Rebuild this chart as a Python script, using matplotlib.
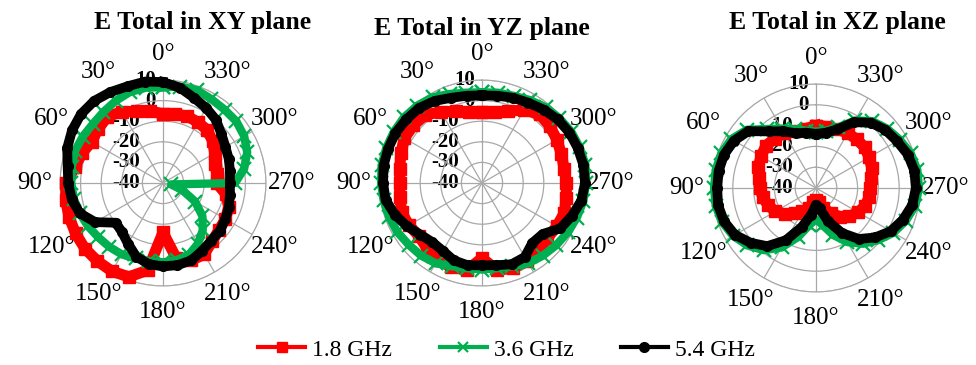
import numpy as np
import matplotlib
matplotlib.use('Agg')
import matplotlib.pyplot as plt

plt.rcParams['font.family'] = ['Liberation Serif', 'DejaVu Serif']

# angles of the pattern cuts, degrees
angles_deg = list(range(0, 360, 10))

# E Total in XY plane (dB)
xy_18 = [-6.5, -4.5, -3, 0, 2, 1, 0, 2, 3.5, 7, 8, 8.5, 9, 9.5, 9.5, 9.5, 8.5, 3,
         -16, -3, 0, 0, -3, -4.5, -5, -6, -9, -14, -13.5, -13, -11, -8.5, -6.5, -6, -5.5, -6]
xy_36 = [6.5, 7, 7, 6, 5, 4.5, 5, 5.5, 5, 4.5, 4, 3, 2, 1, 0.5, 0, -1, -1.5,
         -1.5, -2, -3, -6, -10, -15, -22, -30, -36, -5, 0, 3.5, 5.5, 6.5, 6.5, 7, 8, 7.5]
xy_54 = [9, 10, 10, 11, 12, 12, 11, 9.5, 7, 6, 5, 3, -2, -10, -9, -6, -2, 0,
         0.5, 0.5, 0, -2, -3.5, -4, -5, -6, -7, -7.5, -7, -6, -5, -3, 0, 2, 4, 7]

# E Total in YZ plane (dB)
yz_18 = [-5.5, -5, -3, 0, 3, 3.5, 3.5, 2, 0.5, 0, 0.5, 1.5, 1, 0, 1.5, 3, 3.5, 3,
         -3.5, 3, 4, 4, 3, 1.5, 2, 2.5, 1.5, 1, 0.5, 1, 2, 3, 3.5, 1, -3, -5]
yz_36 = [4, 4.5, 6, 8, 9, 9.5, 9.5, 9.5, 9.5, 9, 8.5, 8, 7.5, 6.5, 6, 5, 3, 2,
         2, 2, 3, 5, 6, 7, 8, 9, 10, 10.5, 11, 10.5, 10, 9, 8, 6.5, 5, 4.5]
yz_54 = [2.5, 3, 4, 6, 7.5, 8, 8.5, 8.5, 8.5, 8, 7.5, 5, 2, -1, -2.5, -2, 0, 0.5,
         0, 0.5, 2, 1.5, -2, -1.5, 4, 6.5, 9, 10, 10, 9.5, 9, 8, 6.5, 5, 4, 3]

# E Total in XZ plane (dB)
xz_18 = [-10, -11, -11, -9.5, -9, -8.5, -9.5, -10.5, -12, -13, -14, -15.5, -17.5, -20.5, -24, -27, -30, -33,
         -34, -33, -30, -26, -22, -19, -16.5, -15, -14, -14, -13, -11.5, -10.5, -9.5, -9.5, -9.5, -10, -10]
xz_36 = [-13, -12, -10, -7, -3, 3.5, 7, 8.5, 9, 9, 9, 8, 6, 3, -1, -7, -15, -22,
         -25, -22, -16, -10, -5, -1, 3, 6, 8.5, 9.5, 9.5, 8.5, 6.5, 4.5, 2, -2.5, -9, -12]
xz_54 = [-14, -13, -12, -8.5, -4.5, 2.5, 5.5, 7, 7.5, 7.5, 7.8, 7, 5, 1, -3.5, -11, -20, -27,
         -32, -30, -23, -15, -8, -3, 1.5, 4.5, 7, 8, 8, 7, 5, 3.5, 1, -3.5, -10, -13]

titles = ["E Total in XY plane", "E Total in YZ plane", "E Total in XZ plane"]
series_labels = ["1.8 GHz", "3.6 GHz", "5.4 GHz"]
r_ticks = [-40, -30, -20, -10, 0, 10]
theta_ticks = list(range(0, 360, 30))

planes = [
    [xy_18, xy_36, xy_54],
    [yz_18, yz_36, yz_54],
    [xz_18, xz_36, xz_54],
]

styles = [
    dict(color='#ff0000', marker='s', markersize=8, linewidth=8),
    dict(color='#00b050', marker='x', markersize=10, markeredgewidth=1.6, linewidth=6),
    dict(color='#000000', marker='o', markersize=7, linewidth=7),
]

# axes boxes in figure pixels: (center x, center y from top, radius)
boxes = [(163, 183, 103), (482, 183, 103), (816, 188, 104)]
title_pos = [(203, 22), (482, 28), (837, 22)]

W, H = 976, 365
fig = plt.figure(figsize=(W / 100, H / 100), dpi=100)

handles = []
for i in range(3):
    cx, cy, R = boxes[i]
    ax = fig.add_axes([(cx - R) / W, (H - cy - R) / H, 2 * R / W, 2 * R / H], projection='polar')
    ax.set_theta_zero_location('N')
    ax.set_theta_direction(1)
    ax.set_ylim(-40, 10)
    ax.set_rticks(r_ticks)
    ax.set_yticklabels([])
    ax.set_thetagrids(theta_ticks, labels=[f"{a}°" for a in theta_ticks], fontsize=18)
    ax.tick_params(axis='x', pad=8)
    ax.grid(color='#a8a8a8', linewidth=0.9)
    ax.spines['polar'].set_color('#a8a8a8')
    ax.set_facecolor('none')

    for r in r_ticks:
        dx = -7 if r >= 0 else -23
        ax.annotate(str(r), xy=(0, r), xytext=(dx, 0), textcoords='offset pixels',
                    ha='right', va='center', fontsize=15, fontweight='bold', zorder=1)

    th = np.deg2rad(angles_deg + [angles_deg[0]])
    for k in range(3):
        vals = planes[i][k] + [planes[i][k][0]]
        ln, = ax.plot(th, vals, label=series_labels[k], clip_on=False, zorder=3 + k, **styles[k])
        if i == 0:
            handles.append(ln)

    tx, ty = title_pos[i]
    fig.text(tx / W, 1 - ty / H, titles[i], ha='center', va='center', fontsize=18.5, fontweight='bold')

leg = fig.legend(handles=handles, loc='center', bbox_to_anchor=(0.519, 1 - 350 / H), ncol=3,
                 frameon=False, fontsize=17, handlelength=2.0, handletextpad=0.3, columnspacing=2.0)
for h in leg.legend_handles:
    h.set_linewidth(3)
    h.set_markersize(7)

fig.savefig('out.png', dpi=100)
